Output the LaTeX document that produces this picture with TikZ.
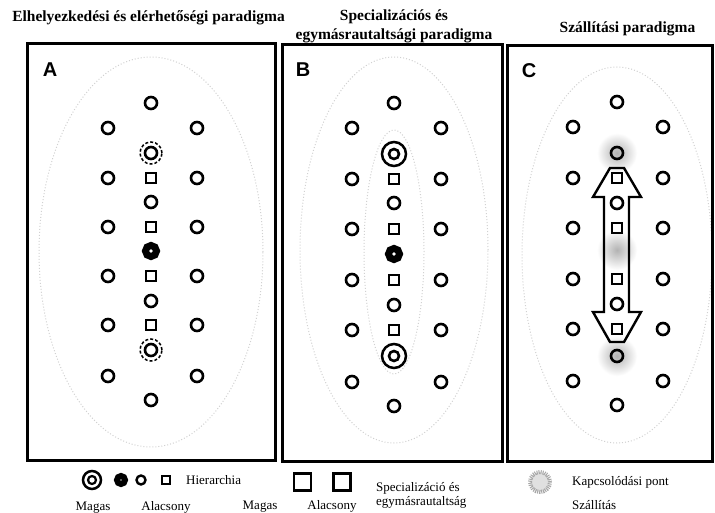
\documentclass[tikz,border=0pt]{standalone}
\usepackage{fontspec}
\setmainfont{Liberation Serif}
\newfontfamily\lettersans{Liberation Sans}
\tikzset{
  title/.style={inner sep=0pt,font=\fontsize{15.5}{19}\selectfont\bfseries},
  legtxt/.style={inner sep=0pt,font=\fontsize{13}{14}\selectfont},
  plet/.style={inner sep=0pt,font=\lettersans\fontsize{20}{22}\selectfont\bfseries},
  panelbox/.style={line width=3pt},
  hc/.style={circle,draw,line width=2.6pt,minimum size=12pt,inner sep=0pt},
  hsq/.style={rectangle,draw,line width=1.8pt,minimum size=10pt,inner sep=0pt},
  hbold/.style={circle,draw,line width=7pt,minimum size=11pt,inner sep=0pt,fill=white},
  dring/.style={circle,draw,line width=1.5pt,dash pattern=on 3pt off 2pt,minimum size=22pt,inner sep=0pt},
  oring/.style={circle,draw,line width=2.5pt,minimum size=24pt,inner sep=0pt},
  halo/.style={circle,shading=radial,inner color=black!30,outer color=white,minimum size=40pt,inner sep=0pt},
  faint/.style={draw=black!18,line width=1pt,dash pattern=on 1pt off 2pt},
  bigsq/.style={rectangle,draw,line width=2.5pt,minimum size=17pt,inner sep=0pt},
  kpont/.style={circle,draw=black!35,line width=4pt,dash pattern=on 1pt off 1pt,fill=black!12,minimum size=20pt,inner sep=0pt}
}
\newcommand\mkpanel[5]{%
  \foreach \yy [count=\i from 0] in {#5}{%
    \ifcase\i
      \node[hc] (#1c\i) at (#3,\yy) {};%
    \or
      \node[hc] (#1l\i) at (#2,\yy) {};\node[hc] (#1r\i) at (#4,\yy) {};%
    \or
    \or
      \node[hc] (#1l\i) at (#2,\yy) {};\node[hsq] (#1c\i) at (#3,\yy) {};\node[hc] (#1r\i) at (#4,\yy) {};%
    \or
      \node[hc] (#1c\i) at (#3,\yy) {};%
    \or
      \node[hc] (#1l\i) at (#2,\yy) {};\node[hsq] (#1c\i) at (#3,\yy) {};\node[hc] (#1r\i) at (#4,\yy) {};%
    \or
    \or
      \node[hc] (#1l\i) at (#2,\yy) {};\node[hsq] (#1c\i) at (#3,\yy) {};\node[hc] (#1r\i) at (#4,\yy) {};%
    \or
      \node[hc] (#1c\i) at (#3,\yy) {};%
    \or
      \node[hc] (#1l\i) at (#2,\yy) {};\node[hsq] (#1c\i) at (#3,\yy) {};\node[hc] (#1r\i) at (#4,\yy) {};%
    \or
    \or
      \node[hc] (#1l\i) at (#2,\yy) {};\node[hc] (#1r\i) at (#4,\yy) {};%
    \or
      \node[hc] (#1c\i) at (#3,\yy) {};%
    \fi}}
\begin{document}
\begin{tikzpicture}[x=1pt,y=-1pt]
\useasboundingbox (0,0) rectangle (715,513);
\fill[white] (0,0) rectangle (715,513);
% titles
\node[title] (t1) at (148.5,18) {Elhelyezkedési és elérhetőségi paradigma};
\node[title,align=center] (t2) at (394,26.5) {Specializációs és\\egymásrautaltsági paradigma};
\node[title] (t3) at (627.5,29) {Szállítási paradigma};
% faint background ellipses
\draw[faint] (151,252) ellipse [x radius=112pt, y radius=195pt];
\draw[faint] (394,250) ellipse [x radius=94pt, y radius=193pt];
\draw[faint] (394,252) ellipse [x radius=30pt, y radius=122pt];
\draw[faint] (617,255) ellipse [x radius=95pt, y radius=188pt];
% panels
\draw[panelbox] (27,44) rectangle (275,460);
\draw[panelbox] (282,45) rectangle (502,461);
\draw[panelbox] (507,46) rectangle (712,461);
\node[plet] (la) at (50,70) {A};
\node[plet] (lb) at (303,70) {B};
\node[plet] (lc) at (529,71) {C};
% halos in C
\node[halo] (ch2) at (617,153) {};
\node[halo] (ch6) at (617,250) {};
\node[halo] (ch10) at (617,356) {};
% panel A
\mkpanel{a}{108}{151}{197}{103,128,153,178,202,227,251,276,301,325,350,376,400}
\node[hc] (ac2) at (151,153) {};
\node[dring] (ad2) at (151,153) {};
\node[hbold] (ac6) at (151,251) {};
\node[hc] (ac10) at (151,350) {};
\node[dring] (ad10) at (151,350) {};
% panel B
\mkpanel{b}{352}{394}{441}{103,128,154,179,203,229,254,280,305,330,356,382,406}
\node[hc,minimum size=10pt] (bc2) at (394,154) {};
\node[oring] (bo2) at (394,154) {};
\node[hbold] (bc6) at (394,254) {};
\node[hc,minimum size=10pt] (bc10) at (394,356) {};
\node[oring] (bo10) at (394,356) {};
% panel C
\mkpanel{c}{573}{617}{663}{102,127,153,178,203,228,250,279,304,329,356,381,405}
\node[hc] (cc2) at (617,153) {};
\node[hc] (cc10) at (617,356) {};
% transport arrow
\draw[line width=2.4pt,line join=miter]
  (610,168) -- (624,168) -- (641,197) -- (629,197) -- (629,312) -- (641,312)
  -- (624,342) -- (610,342) -- (593,312) -- (604,312) -- (604,197) -- (593,197) -- cycle;
% legend
\node[oring,minimum size=18pt] (lg1) at (92,480) {};
\node[hc,minimum size=8pt,line width=2.2pt] (lg1i) at (92,480) {};
\node[hbold,minimum size=8pt,line width=6pt] (lg2) at (121,480) {};
\node[hc,minimum size=9pt,line width=2.4pt] (lg3) at (141,480) {};
\node[hsq,minimum size=8pt] (lg4) at (166,480) {};
\node[legtxt,anchor=west] (lgh) at (186,480) {Hierarchia};
\node[legtxt,anchor=base] (lgm1) at (93,510) {Magas};
\node[legtxt,anchor=base] (lga1) at (166,510) {Alacsony};
\node[bigsq] (lgs1) at (302.5,482) {};
\node[bigsq] (lgs2) at (342,482) {};
\node[legtxt,anchor=base] (lgm2) at (260,509) {Magas};
\node[legtxt,anchor=base] (lga2) at (332,509) {Alacsony};
\node[legtxt,anchor=west,align=left] (lgsp) at (376,495) {Specializáció és\\egymásrautaltság};
\node[kpont] (lgk) at (540,482) {};
\node[legtxt,anchor=west] (lgkt) at (572,482) {Kapcsolódási pont};
\node[legtxt,anchor=west] (lgsz) at (572,505) {Szállítás};
\end{tikzpicture}
\end{document}
